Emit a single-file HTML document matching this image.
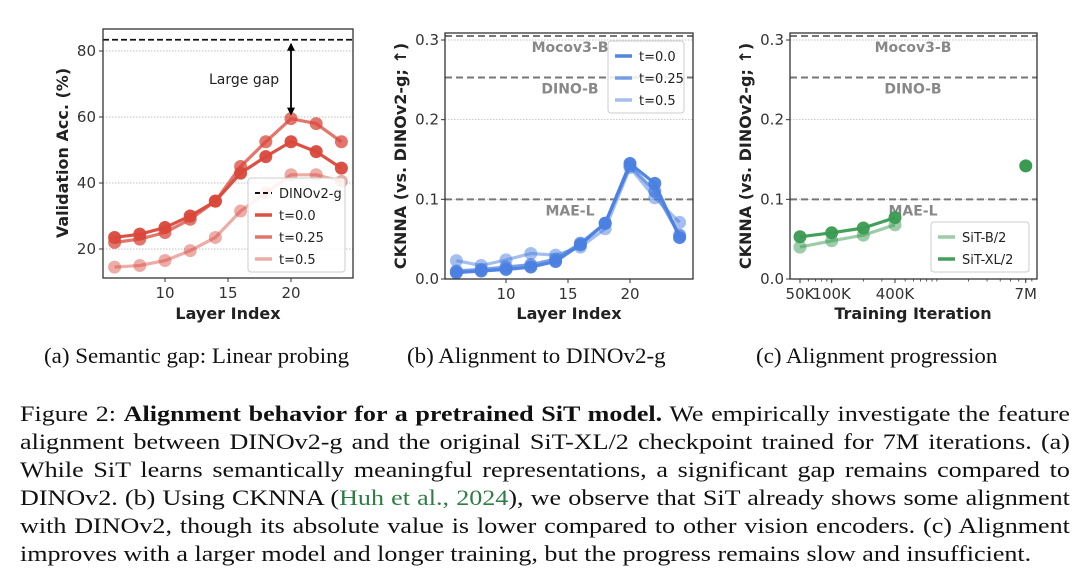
<!DOCTYPE html>
<html><head><meta charset="utf-8">
<style>
html,body{margin:0;padding:0;background:#fff;}
body{width:1080px;height:584px;position:relative;overflow:hidden;}
svg{position:absolute;left:0;top:0;}
.cap{position:absolute;font-family:"Liberation Serif",serif;font-size:22px;color:#111;white-space:nowrap;transform:scaleX(1.045);transform-origin:0 0;}
.body{position:absolute;left:20px;width:886px;font-family:"Liberation Serif",serif;font-size:22px;color:#111;transform:scaleX(1.185);transform-origin:0 0;}
.ln{height:28px;line-height:28px;text-align:justify;text-align-last:justify;white-space:nowrap;}
.ln.last{text-align-last:left;}
.cite{color:#2e7d46;}
</style></head><body>
<svg id="fig" width="1080" height="340" viewBox="0 0 1080 340" font-family="'DejaVu Sans','Liberation Sans',sans-serif"></svg>
<div class="cap" style="left:44px;top:343px">(a) Semantic gap: Linear probing</div>
<div class="cap" style="left:407px;top:343px">(b) Alignment to DINOv2-g</div>
<div class="cap" style="left:756px;top:343px">(c) Alignment progression</div>
<div class="body" style="top:400px">
<div class="ln">Figure 2: <b>Alignment behavior for a pretrained SiT model.</b> We empirically investigate the feature</div>
<div class="ln">alignment between DINOv2-g and the original SiT-XL/2 checkpoint trained for 7M iterations. (a)</div>
<div class="ln">While SiT learns semantically meaningful representations, a significant gap remains compared to</div>
<div class="ln">DINOv2. (b) Using CKNNA (<span class="cite">Huh et al., 2024</span>), we observe that SiT already shows some alignment</div>
<div class="ln">with DINOv2, though its absolute value is lower compared to other vision encoders. (c) Alignment</div>
<div class="ln last">improves with a larger model and longer training, but the progress remains slow and insufficient.</div>
</div>
<script>
const layers = [6,8,10,12,14,16,18,20,22,24];
const accT0 = [23.5,24.5,26.5,30,34.5,43,48,52.5,49.5,44.5];
const accT025 = [22,23,25,29,34.5,45,52.5,59.5,58,52.5];
const accT05 = [14.5,15,16.5,19.5,23.5,31.5,37,42.5,42.5,40.5];
const dinoAcc = 83.4;
const accTicks = [20,40,60,80];
const layerTicks = [10,15,20];
const ckT0 = [0.008,0.01,0.012,0.015,0.022,0.043,0.07,0.145,0.12,0.052];
const ckT025 = [0.01,0.012,0.015,0.018,0.025,0.045,0.07,0.142,0.11,0.055];
const ckT05 = [0.023,0.017,0.024,0.032,0.03,0.04,0.063,0.14,0.102,0.071];
const ckTicks = [0.0,0.1,0.2,0.3];
const refNames = ["Mocov3-B","DINO-B","MAE-L"];
const refVals = [0.305,0.253,0.1];
const iters = [50000,100000,200000,400000];
const ckB = [0.04,0.048,0.055,0.068];
const ckXL = [0.053,0.058,0.064,0.077];
const xl7mIter = 7000000;
const xl7m = 0.142;
const iterTicks = [50000,100000,400000,7000000];
const iterTickLabels = ["50K","100K","400K","7M"];

const NS="http://www.w3.org/2000/svg";
const svg=document.getElementById('fig');
function el(tag,attrs,parent,text){const e=document.createElementNS(NS,tag);for(const k in attrs)e.setAttribute(k,attrs[k]);if(text!==undefined)e.textContent=text;(parent||svg).appendChild(e);return e;}
function lin(d0,d1,r0,r1){return v=>r0+(v-d0)/(d1-d0)*(r1-r0);}

function frame(g,x0,y0,x1,y1){
  el('rect',{x:x0,y:y0,width:x1-x0,height:y1-y0,fill:'none',stroke:'#333','stroke-width':1.3},g);
}
function series(g,xs,ys,X,Y,color,op,name){
  const pts=xs.map((v,i)=>X(v).toFixed(1)+','+Y(ys[i]).toFixed(1)).join(' ');
  const pl=el('polyline',{points:pts,fill:'none',stroke:color,'stroke-width':3.2,'stroke-opacity':op,'stroke-linejoin':'round'},g);
  
  
  xs.forEach((v,i)=>{const c=el('circle',{cx:X(v),cy:Y(ys[i]),r:6.5,fill:color,'fill-opacity':op},g);
    
    });
}
function legend(g,x,y,w,items){
  const h=items.length*22+6;
  const r=el('rect',{x:x,y:y,width:w,height:h,rx:3,fill:'#fff','fill-opacity':0.85,stroke:'#ccc'},g);
  
  
  items.forEach((it,i)=>{const yy=y+15+i*22;
    const ln=el('line',{x1:x+7,x2:x+24,y1:yy,y2:yy,stroke:it.c,'stroke-opacity':it.o,'stroke-width':it.dash?2:3.5,'stroke-dasharray':it.dash||'none'},g);
    
    
    const t=el('text',{x:x+31,y:yy+5,'font-size':13,fill:'#222'},g,it.t);
    
    });
}

// Panel A
(function(){
  const g=el('g',{});
  const x0=103,x1=353,y0=29,y1=278;
  const X=lin(10,20,165,291), Y=lin(20,80,249,51);
  accTicks.forEach(v=>{el('line',{x1:x0,x2:x1,y1:Y(v),y2:Y(v),stroke:'#aaa','stroke-width':0.7,'stroke-dasharray':'1.5,1.5'},g);
    el('line',{x1:x0-4,x2:x0,y1:Y(v),y2:Y(v),stroke:'#333'},g);
    const t=el('text',{x:x0-7,y:Y(v)+5,'text-anchor':'end','font-size':15,fill:'#333'},g,v);
    });
  layerTicks.forEach(v=>{el('line',{x1:X(v),x2:X(v),y1:y1,y2:y1+4,stroke:'#333'},g);
    const t=el('text',{x:X(v),y:y1+20,'text-anchor':'middle','font-size':15,fill:'#333'},g,v);
    });
  el('line',{x1:x0,x2:x1,y1:Y(dinoAcc),y2:Y(dinoAcc),stroke:'#111','stroke-width':1.8,'stroke-dasharray':'6,3'},g);
  series(g,layers,accT05,X,Y,'#d9483b',0.45,'t05');
  series(g,layers,accT025,X,Y,'#d9483b',0.75,'t025');
  series(g,layers,accT0,X,Y,'#d9483b',0.95,'t0');
  const ax=X(20);
  el('line',{x1:ax,x2:ax,y1:Y(dinoAcc)+5,y2:Y(accT025[7])-5,stroke:'#000','stroke-width':1.8},g);
  el('path',{d:`M${ax-4},${Y(dinoAcc)+11} L${ax},${Y(dinoAcc)+3} L${ax+4},${Y(dinoAcc)+11}Z`,fill:'#000'},g);
  el('path',{d:`M${ax-4},${Y(accT025[7])-11} L${ax},${Y(accT025[7])-3} L${ax+4},${Y(accT025[7])-11}Z`,fill:'#000'},g);
  el('text',{x:209,y:84,'font-size':14,fill:'#222'},g,'Large gap');
  frame(g,x0,y0,x1,y1);
  legend(g,248,178,97,[{t:'DINOv2-g',c:'#111',o:1,dash:'5,3'},{t:'t=0.0',c:'#d9483b',o:0.95},{t:'t=0.25',c:'#d9483b',o:0.75},{t:'t=0.5',c:'#d9483b',o:0.45}]);
  el('text',{x:228,y:319,'text-anchor':'middle','font-size':16,'font-weight':'bold',fill:'#222'},g,'Layer Index');
  el('text',{transform:'translate(68,153) rotate(-90)','text-anchor':'middle','font-size':16,'font-weight':'bold',fill:'#222'},g,'Validation Acc. (%)');
})();

function refLines(g,x0,x1,Y,labelX){
  refVals.forEach((v,i)=>{
    el('line',{x1:x0,x2:x1,y1:Y(v),y2:Y(v),stroke:'#777','stroke-width':2,'stroke-dasharray':'7,4'},g);
    el('text',{x:labelX,y:Y(v)+16,'text-anchor':'middle','font-size':14,'font-weight':'bold',fill:'#888'},g,refNames[i]);
  });
}
function ckAxes(g,x0,x1,y0,y1,Y,label){
  ckTicks.forEach(v=>{el('line',{x1:x0,x2:x1,y1:Y(v),y2:Y(v),stroke:'#aaa','stroke-width':0.7,'stroke-dasharray':'1.5,1.5'},g);
    el('line',{x1:x0-4,x2:x0,y1:Y(v),y2:Y(v),stroke:'#333'},g);
    const t=el('text',{x:x0-6,y:Y(v)+5,'text-anchor':'end','font-size':15,fill:'#333'},g,v.toFixed(1));
    });
  el('text',{transform:`translate(${x0-39},${(y0+y1)/2}) rotate(-90)`,'text-anchor':'middle','font-size':16,'font-weight':'bold',fill:'#222'},g,label);
}

// Panel B
(function(){
  const g=el('g',{});
  const x0=445,x1=693,y0=33,y1=279;
  const X=lin(10,20,506,630), Y=lin(0,0.3,279,40);
  ckAxes(g,x0,x1,y0,y1,Y,'CKNNA (vs. DINOv2-g; \u2191)');
  layerTicks.forEach(v=>{el('line',{x1:X(v),x2:X(v),y1:y1,y2:y1+4,stroke:'#333'},g);
    el('text',{x:X(v),y:y1+20,'text-anchor':'middle','font-size':15,fill:'#333'},g,v);});
  refLines(g,x0,x1,Y,570);
  series(g,layers,ckT05,X,Y,'#4a7fe0',0.5,'t05');
  series(g,layers,ckT025,X,Y,'#4a7fe0',0.75,'t025');
  series(g,layers,ckT0,X,Y,'#4a7fe0',0.95,'t0');
  frame(g,x0,y0,x1,y1);
  legend(g,608,41,76,[{t:'t=0.0',c:'#4a7fe0',o:0.95},{t:'t=0.25',c:'#4a7fe0',o:0.75},{t:'t=0.5',c:'#4a7fe0',o:0.5}]);
  el('text',{x:569,y:319,'text-anchor':'middle','font-size':16,'font-weight':'bold',fill:'#222'},g,'Layer Index');
})();

// Panel C
(function(){
  const g=el('g',{});
  const x0=790,x1=1037,y0=33,y1=279;
  const lx=lin(Math.log10(50000),Math.log10(400000),800,895);
  const X=v=>lx(Math.log10(v));
  const Y=lin(0,0.3,279,40);
  ckAxes(g,x0,x1,y0,y1,Y,'CKNNA (vs. DINOv2-g; \u2191)');
  for(let d=4;d<=6;d++)for(let m=1;m<10;m++){const v=m*Math.pow(10,d);const px=X(v);if(px<x0||px>x1)continue;
    el('line',{x1:px,x2:px,y1:y1,y2:y1+2.5,stroke:'#333','stroke-width':0.8},g);}
  iterTicks.forEach((v,i)=>{el('line',{x1:X(v),x2:X(v),y1:y1,y2:y1+4,stroke:'#333'},g);
    el('text',{x:X(v),y:y1+20,'text-anchor':'middle','font-size':15,fill:'#333'},g,iterTickLabels[i]);});
  refLines(g,x0,x1,Y,913);
  series(g,iters,ckB,X,Y,'#3a9a52',0.5,'sit-b2');
  series(g,iters,ckXL,X,Y,'#3a9a52',0.95,'sit-xl2');
  const c=el('circle',{cx:X(xl7mIter),cy:Y(xl7m),r:6.5,fill:'#3a9a52'},g);
  
  
  frame(g,x0,y0,x1,y1);
  legend(g,931,222,98,[{t:'SiT-B/2',c:'#3a9a52',o:0.5},{t:'SiT-XL/2',c:'#3a9a52',o:0.95}]);
  el('text',{x:913,y:319,'text-anchor':'middle','font-size':16,'font-weight':'bold',fill:'#222'},g,'Training Iteration');
})();
</script>
</body></html>
